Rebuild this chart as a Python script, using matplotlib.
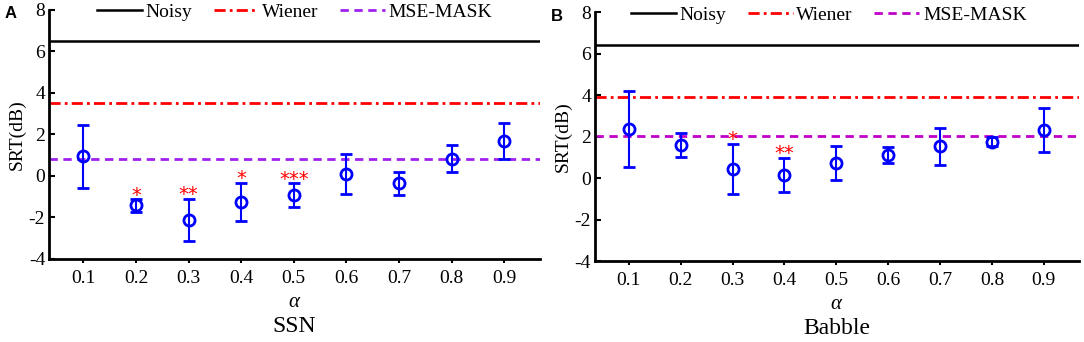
import matplotlib
matplotlib.use('Agg')
import matplotlib.pyplot as plt

plt.rcParams['font.family'] = ['Liberation Serif', 'DejaVu Serif']
plt.rcParams['mathtext.fontset'] = 'custom'
plt.rcParams['mathtext.it'] = 'Liberation Serif:italic'
plt.rcParams['mathtext.rm'] = 'Liberation Serif'
plt.rcParams['axes.unicode_minus'] = False

alpha = [0.1, 0.2, 0.3, 0.4, 0.5, 0.6, 0.7, 0.8, 0.9]
alpha_labels = ['0.1', '0.2', '0.3', '0.4', '0.5', '0.6', '0.7', '0.8', '0.9']

# SSN panel
ssn_mean = [0.95, -1.42, -2.12, -1.24, -0.92, 0.08, -0.35, 0.84, 1.69]
ssn_err = [1.52, 0.30, 1.03, 0.92, 0.57, 0.97, 0.55, 0.65, 0.88]
ssn_stars = ['', '*', '**', '*', '***', '', '', '', '']
ssn_noisy = 6.5
ssn_wiener = 3.5
ssn_mse = 0.81

# Babble panel
bab_mean = [2.36, 1.61, 0.45, 0.16, 0.72, 1.11, 1.54, 1.75, 2.32]
bab_err = [1.83, 0.57, 1.21, 0.83, 0.82, 0.38, 0.90, 0.22, 1.05]
bab_stars = ['', '', '*', '**', '', '', '', '', '']
bab_noisy = 6.45
bab_wiener = 3.9
bab_mse = 2.03

fig = plt.figure(figsize=(10.84, 3.42), dpi=100)
axA = fig.add_axes([0.0455, 0.2427, 0.4525, 0.7281])
axB = fig.add_axes([0.549, 0.2368, 0.4464, 0.7267])


def draw(ax, mean, err, stars, noisy, wiener, mse, mse_color, name, letter, leg_x, let_x):
    ax.axhline(noisy, color='black', lw=1.8, label='Noisy')
    ax.axhline(wiener, color='red', lw=2, dashes=(4, 1.5, 1, 1.5), label='Wiener')
    ax.axhline(mse, color=mse_color, lw=2, dashes=(3, 2), label='MSE-MASK')
    ax.errorbar(alpha, mean, yerr=err, fmt='o', color='blue', mfc='none',
                mec='blue', ms=8, mew=2, elinewidth=1.5, capsize=4.5, capthick=1.5)
    for x, m, e, s in zip(alpha, mean, err, stars):
        if s:
            ax.annotate(s, xy=(x, m + e), xytext=(0, -1), textcoords='offset points',
                        ha='center', va='baseline', color='red', fontsize=14,
                        family='DejaVu Sans')
    ax.set_xlim(0.035, 0.968)
    ax.set_ylim(-4, 8)
    ax.set_xticks(alpha)
    ax.set_xticklabels(alpha_labels)
    ax.set_yticks([-4, -2, 0, 2, 4, 6, 8])
    for sp in ['top', 'right']:
        ax.spines[sp].set_visible(False)
    for sp in ['left', 'bottom']:
        ax.spines[sp].set_linewidth(2)
    ax.tick_params(axis='y', direction='in', length=4, width=1.5, labelsize=14, pad=3)
    ax.tick_params(axis='x', direction='out', length=3, width=1.5, labelsize=14, pad=5)
    ax.set_ylabel('SRT(dB)', fontsize=14, labelpad=2)
    ax.text(0.5, -0.175, r'$\alpha$', transform=ax.transAxes, ha='center', va='center', fontsize=15)
    ax.text(0.5, -0.27, name, transform=ax.transAxes, ha='center', va='center', fontsize=17)
    ax.legend(loc='center', bbox_to_anchor=(leg_x, 0.99), ncol=3, frameon=False, fontsize=14,
              handlelength=2.3, handletextpad=0.2, columnspacing=1.1, borderpad=0)
    ax.text(let_x, 0.985, letter, transform=ax.transAxes, ha='center', va='center',
            fontsize=12, fontweight='bold', family='Liberation Sans')


draw(axA, ssn_mean, ssn_err, ssn_stars, ssn_noisy, ssn_wiener, ssn_mse, '#a020f0', 'SSN', 'A', 0.5, -0.08)
draw(axB, bab_mean, bab_err, bab_stars, bab_noisy, bab_wiener, bab_mse, '#c000c8', 'Babble', 'B', 0.483, -0.078)

fig.savefig('out.png', dpi=100)
